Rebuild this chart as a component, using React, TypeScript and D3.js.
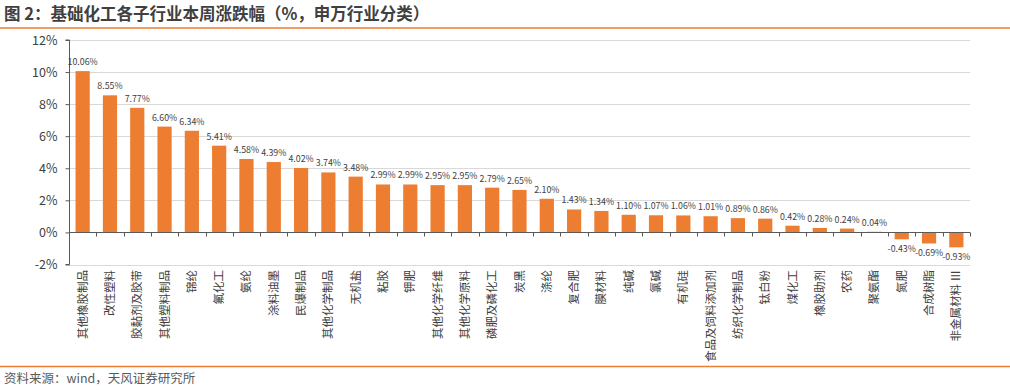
import * as d3 from "d3"
import React, { useEffect, useRef } from "react"

const categories = [
  "其他橡胶制品", "改性塑料", "胶黏剂及胶带", "其他塑料制品", "锦纶", "氟化工", "氨纶",
  "涂料油墨", "民爆制品", "其他化学制品", "无机盐", "粘胶", "钾肥", "其他化学纤维",
  "其他化学原料", "磷肥及磷化工", "炭黑", "涤纶", "复合肥", "膜材料", "纯碱", "氯碱",
  "有机硅", "食品及饲料添加剂", "纺织化学制品", "钛白粉", "煤化工", "橡胶助剂", "农药",
  "聚氨酯", "氮肥", "合成树脂", "非金属材料Ⅲ",
]
const values = [
  10.06, 8.55, 7.77, 6.60, 6.34, 5.41, 4.58, 4.39, 4.02, 3.74, 3.48, 2.99, 2.99, 2.95,
  2.95, 2.79, 2.65, 2.10, 1.43, 1.34, 1.10, 1.07, 1.06, 1.01, 0.89, 0.86, 0.42, 0.28,
  0.24, 0.04, -0.43, -0.69, -0.93,
]
const yTicks = [-2, 0, 2, 4, 6, 8, 10, 12]

const title = "图 2：基础化工各子行业本周涨跌幅（%，申万行业分类）"
const source = "资料来源：wind，天风证券研究所"

export default function App() {
  const ref = useRef<SVGSVGElement>(null)

  useEffect(() => {
    document.body.style.margin = "0"
    const width = 1010
    const height = 390
    const font = "'Noto Sans CJK SC', 'Noto Sans', sans-serif"
    const svg = d3.select(ref.current)
    svg.selectAll("*").remove()
    svg.attr("width", width).attr("height", height).style("font-family", font)

    const left = 69
    const right = 970
    const x = d3.scaleBand().domain(categories).range([left, right]).paddingInner(0.48).paddingOuter(0.24)
    const y = d3.scaleLinear().domain([-2, 12]).range([264.5, 40])

    // header / footer
    svg.append("text").attr("x", 4).attr("y", 20)
      .attr("font-size", 16.5).attr("font-weight", "bold").attr("fill", "#404040")
      .text(title)
    svg.append("line").attr("x1", 0).attr("x2", width).attr("y1", 28).attr("y2", 28)
      .attr("stroke", "#ED7D31").attr("stroke-width", 1.5)
    svg.append("line").attr("x1", 0).attr("x2", width).attr("y1", 366.5).attr("y2", 366.5)
      .attr("stroke", "#ED7D31").attr("stroke-width", 1.5)
    svg.append("text").attr("x", 4).attr("y", 383)
      .attr("font-size", 12.5).attr("fill", "#595959")
      .text(source)

    // gridlines
    svg.append("g").selectAll("line").data(yTicks.filter(d => d !== 0)).join("line")
      .attr("x1", left).attr("x2", right)
      .attr("y1", d => Math.round(y(d)) + 0.5).attr("y2", d => Math.round(y(d)) + 0.5)
      .attr("stroke", "#d9d9d9")

    // y axis
    const yAxis = svg.append("g").attr("transform", `translate(${left + 0.5},0)`)
      .call(d3.axisLeft(y).tickValues(yTicks).tickSize(4).tickPadding(8).tickFormat(d => d + "%"))
    yAxis.select(".domain").attr("stroke", "#595959").attr("d", `M-4,${y(12)}H0V${y(-2)}H-4`)
    yAxis.selectAll(".tick line").attr("stroke", "#595959")
    yAxis.selectAll(".tick text").attr("fill", "#404040").attr("font-size", 12.5).style("font-family", font)

    // bars
    svg.append("g").selectAll("rect").data(values).join("rect")
      .attr("x", (d, i) => x(categories[i])!)
      .attr("width", x.bandwidth())
      .attr("y", d => y(Math.max(0, d)))
      .attr("height", d => Math.abs(y(d) - y(0)))
      .attr("fill", "#ED7D31")

    // value labels
    svg.append("g").selectAll("text").data(values).join("text")
      .attr("x", (d, i) => x(categories[i])! + x.bandwidth() / 2)
      .attr("y", d => d >= 0 ? y(d) - 6 : y(d) + 13)
      .attr("text-anchor", "middle")
      .attr("font-size", 8.8).attr("fill", "#404040")
      .text(d => d.toFixed(2) + "%")

    // zero axis with category ticks
    const y0 = Math.round(y(0)) + 0.5
    svg.append("line").attr("x1", left).attr("x2", right).attr("y1", y0).attr("y2", y0)
      .attr("stroke", "#595959")
    svg.append("g").selectAll("line").data(d3.range(1, categories.length + 1)).join("line")
      .attr("x1", i => Math.round(left + i * x.step()) + 0.5)
      .attr("x2", i => Math.round(left + i * x.step()) + 0.5)
      .attr("y1", y0).attr("y2", y0 + 4)
      .attr("stroke", "#595959")

    // category labels
    svg.append("g").selectAll("text").data(categories).join("text")
      .attr("transform", d => `translate(${x(d)! + x.bandwidth() / 2 + 4},270) rotate(-90)`)
      .attr("text-anchor", "end")
      .attr("font-size", 11.5).attr("fill", "#404040")
      .text(d => d.replace("Ⅲ", " Ⅲ"))
  }, [])

  return <svg ref={ref} style={{ position: "absolute", left: 0, top: 0 }} />
}
